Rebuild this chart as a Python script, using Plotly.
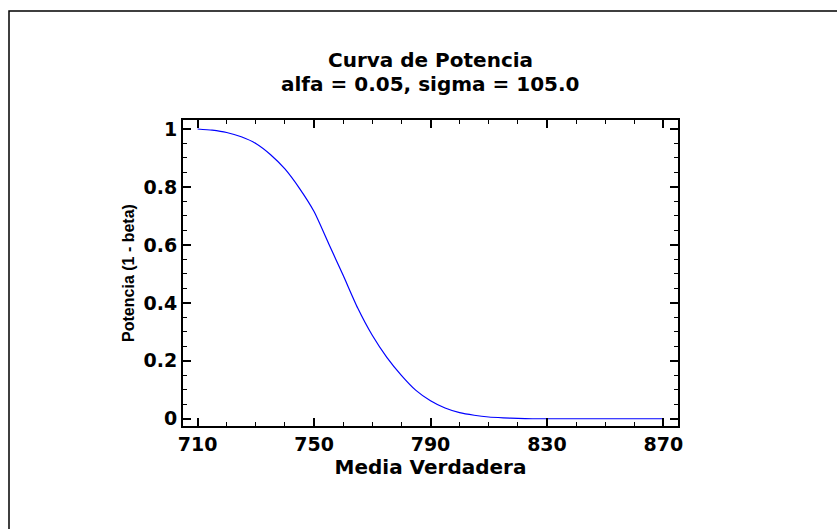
import plotly.graph_objects as go

# Data
media_verdadera = [710, 715, 720, 725, 730, 735, 740, 745, 750, 755, 760, 765, 770,
                   775, 780, 785, 790, 795, 800, 805, 810, 815, 820, 825, 830, 835,
                   840, 845, 850, 855, 860, 865, 870]
potencia = [1.000, 0.996, 0.988, 0.973, 0.950, 0.912, 0.862, 0.795, 0.715, 0.605, 0.495,
            0.382, 0.288, 0.212, 0.150, 0.098, 0.062, 0.037, 0.021, 0.012, 0.006, 0.003,
            0.001, 0.000, 0.000, 0.000, 0.000, 0.000, 0.000, 0.000, 0.000, 0.000, 0.000]
x_ticks = [710, 750, 790, 830, 870]
y_ticks = [0, 0.2, 0.4, 0.6, 0.8, 1]
y_tick_labels = ["0", "0.2", "0.4", "0.6", "0.8", "1"]
title_line1 = "Curva de Potencia"
title_line2 = "alfa = 0.05, sigma = 105.0"

W, H = 837, 529
L, R, T, B = 183, 678, 120, 426
pw, ph = R - L, B - T

fig = go.Figure()
fig.add_trace(go.Scatter(
    x=media_verdadera, y=potencia, mode="lines",
    line=dict(color="#0000ff", width=1.2, shape="spline", smoothing=0.6),
    showlegend=False, hoverinfo="x+y"))

font_main = "DejaVu Sans, Liberation Sans, Arial, sans-serif"

axis_common = dict(
    showline=True, linecolor="black", linewidth=2, mirror="ticks",
    ticks="inside", ticklen=8, tickwidth=1.5, tickcolor="black",
    showgrid=False, zeroline=False,
    tickfont=dict(family=font_main, size=19, color="black", weight="bold"),
)

fig.update_xaxes(
    range=[705, 875], tickvals=x_ticks, ticktext=[str(v) for v in x_ticks],
    minor=dict(dtick=10, tick0=710, ticks="inside", ticklen=4, tickwidth=1.2, tickcolor="black"),
    title=dict(text="Media Verdadera", standoff=1,
               font=dict(family=font_main, size=20, color="black", weight="bold")),
    **axis_common)
fig.update_yaxes(
    range=[-0.025, 1.031], tickvals=y_ticks, ticktext=y_tick_labels,
    minor=dict(dtick=0.05, tick0=0, ticks="inside", ticklen=4, tickwidth=1.2, tickcolor="black"),
    title=dict(text="Potencia (1 - beta)", standoff=5,
               font=dict(family="Liberation Sans, Arial, sans-serif",
                         size=16, color="black", weight="bold")),
    **axis_common)

def px2x(px):
    return (px - L) / pw

def py2y(py):
    return (B - py) / ph

# outer frame (extends past right and bottom edges as in the reference)
fig.add_shape(type="rect", xref="paper", yref="paper",
              x0=px2x(9), x1=px2x(850), y0=py2y(11), y1=py2y(545),
              line=dict(color="black", width=1.5), fillcolor="rgba(0,0,0,0)", layer="below")

title_font = dict(family=font_main, size=20, color="black", weight="bold")
fig.add_annotation(text=title_line1, xref="paper", yref="paper", x=0.5, y=py2y(60),
                   xanchor="center", yanchor="middle", showarrow=False, font=title_font)
fig.add_annotation(text=title_line2, xref="paper", yref="paper", x=0.5, y=py2y(84),
                   xanchor="center", yanchor="middle", showarrow=False, font=title_font)

fig.update_layout(
    width=W, height=H,
    margin=dict(l=L, r=W - R, t=T, b=H - B),
    paper_bgcolor="white", plot_bgcolor="white",
)

fig.write_html("out.html", config={"displayModeBar": False},
               post_script="document.body.style.margin='0';document.body.style.overflow='hidden';")
